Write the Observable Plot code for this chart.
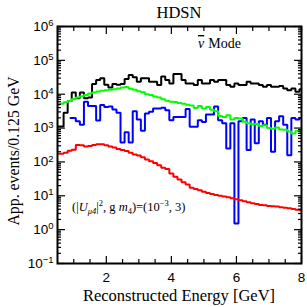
<!DOCTYPE html>
<html><head><meta charset="utf-8">
<script src="https://cdn.jsdelivr.net/npm/d3@7"></script>
<script src="https://cdn.jsdelivr.net/npm/@observablehq/plot@0.6"></script>
<style>html,body{margin:0;padding:0;background:#fff}#chart{width:307px;height:307px}</style>
</head><body><div id="chart"></div>
<script>
// Bin centres (GeV), 0.125 GeV bins
const energy = [0.5,0.625,0.75,0.875,1,1.125,1.25,1.375,1.5,1.625,1.75,1.875,2,2.125,2.25,2.375,2.5,2.625,2.75,2.875,3,3.125,3.25,3.375,3.5,3.625,3.75,3.875,4,4.125,4.25,4.375,4.5,4.625,4.75,4.875,5,5.125,5.25,5.375,5.5,5.625,5.75,5.875,6,6.125,6.25,6.375,6.5,6.625,6.75,6.875,7,7.125,7.25,7.375,7.5,7.625,7.75,7.875,8];
const blackSeries = [1122,1122,2818,6310,11220,7586,11220,7586,7943,19950,26300,29510,19050,15850,19950,19050,19950,28180,37150,31620,23440,29510,29510,23440,23440,18620,33110,26300,20890,39810,39810,26300,20890,20890,18620,26300,20890,20890,26300,23440,26300,26300,18620,16600,20890,18620,18620,23440,20890,20890,18620,16600,18620,16600,16600,17380,14790,13180,14790,11750,14130];
const greenSeries = [4786,5248,5754,6310,7244,7943,8710,9550,10470,11220,12020,12590,13180,13490,14130,14790,15850,16220,14450,13490,12300,11480,10000,9550,8511,7943,7079,6457,6026,5888,5495,5248,4898,4677,3890,4467,3802,4169,3467,3162,2291,2138,2399,1778,1995,1905,1549,1380,1288,1318,1148,1202,1000,955,1047,912,891,794,692,832,794];
const blueSeries = [null,null,null,1995,1995,1585,1259,6026,4467,4467,1660,4786,4169,4365,3548,2818,372,759,372,3162,1778,832,2692,3020,3802,3802,3981,3388,1698,2138,2138,2138,3631,1096,1096,1698,1514,2512,2512,4365,1698,1380,251,1380,1.51,1585,1995,224,1778,355,1585,1259,1995,200,1585,2239,1259,158,1995,1778,1995];
const redSeries = [174,174,186,214,229,316,309,288,295,316,331,331,309,288,269,240,224,209,186,166,155,138,117.5,105,93.3,79.4,67.6,61.7,45.7,36.3,30.2,25.1,21.4,17.4,15.8,14.5,13.2,12.0,11.2,10.5,10.0,9.55,9.12,8.51,7.94,7.41,6.92,6.46,6.03,5.75,5.37,5.25,5.01,4.90,4.79,4.57,4.47,4.27,4.07,3.89,3.72];

const xLabelTicks = [2,4,6,8];
const xMinorTicks = [1,1.5,2.5,3,3.5,4.5,5,5.5,6.5,7,7.5];
const yDecades = [0.1,1,10,100,1000,10000,100000,1000000];
const yMinorTicks = [];
for (const d of yDecades.slice(0,-1)) for (const m of [2,3,4,5,6,7,8,9]) yMinorTicks.push(+(d*m).toPrecision(3));

const titleText = "HDSN";
const modeNu = "ν";
const modeWord = "Mode";
const xTitle = "Reconstructed Energy [GeV]";
const yTitle = "App. events/0.125 GeV";

const rows = (vals) => energy.map((e, i) => ({e, v: vals[i]})).filter(d => d.v != null);

const W = 307, H = 307, mL = 57, mR = 6, mT = 26, mB = 44;
const empty = () => "";
const lineOpts = (c) => ({x: "e", y: "v", curve: "step", stroke: c, strokeWidth: 2, clip: true, strokeLinejoin: "miter", strokeLinecap: "butt"});

const plot = Plot.plot({
  width: W, height: H,
  marginLeft: mL, marginRight: mR, marginTop: mT, marginBottom: mB,
  style: {background: "white", fontFamily: "Liberation Sans", color: "black"},
  x: {domain: [0.5, 8], label: null},
  y: {type: "log", domain: [0.1, 1e6], label: null},
  marks: [
    Plot.line(rows(blackSeries), lineOpts("black")),
    Plot.line(rows(blueSeries), lineOpts("#0000ff")),
    Plot.line(rows(greenSeries), lineOpts("#00ff00")),
    Plot.line(rows(redSeries), lineOpts("#ff0000")),
    Plot.axisX(xLabelTicks, {anchor: "bottom", tickSize: -7, tickFormat: empty, strokeWidth: 1.2}),
    Plot.axisX(xMinorTicks, {anchor: "bottom", tickSize: -4, tickFormat: empty, strokeWidth: 1.2}),
    Plot.axisX(xLabelTicks, {anchor: "top", tickSize: -7, tickFormat: empty, strokeWidth: 1.2}),
    Plot.axisX(xMinorTicks, {anchor: "top", tickSize: -4, tickFormat: empty, strokeWidth: 1.2}),
    Plot.axisY(yDecades, {anchor: "left", tickSize: -8, tickFormat: empty, strokeWidth: 1.2}),
    Plot.axisY(yMinorTicks, {anchor: "left", tickSize: -4, tickFormat: empty, strokeWidth: 1.2}),
    Plot.axisY(yDecades, {anchor: "right", tickSize: -8, tickFormat: empty, strokeWidth: 1.2}),
    Plot.axisY(yMinorTicks, {anchor: "right", tickSize: -4, tickFormat: empty, strokeWidth: 1.2}),
    Plot.axisX(xLabelTicks, {anchor: "bottom", tickSize: 0, tickPadding: 9, fontSize: 13.5, tickFormat: d => String(d)}),
    Plot.axisY(yDecades, {anchor: "left", tickSize: 0, tickPadding: 4, fontSize: 13.5,
      tickFormat: d => { const e = Math.round(Math.log10(d)); return e < 0 ? "\u2212" + (-e) : String(e); }}),
    Plot.frame({stroke: "black", strokeWidth: 2})
  ]
});
document.getElementById("chart").appendChild(plot);

const svg = d3.select(plot);
// superscript decade labels
svg.selectAll('g[aria-label="y-axis tick label"] text').each(function() {
  const t = this.textContent;
  if (!t) return;
  const el = d3.select(this);
  el.text(null);
  el.append("tspan").text("10");
  el.append("tspan").attr("dy", "-0.5em").attr("font-size", "9.5px").text(t);
});

const cx = (mL + W - mR) / 2;
const serif = "Liberation Serif";
svg.append("text").attr("x", cx).attr("y", 18).attr("text-anchor", "middle")
  .attr("font-family", serif).attr("font-size", 16.5).text(titleText);
const mode = svg.append("text").attr("x", 198).attr("y", 48).attr("text-anchor", "start")
  .attr("font-family", serif).attr("font-size", 14);
mode.append("tspan").attr("font-style", "italic").style("text-decoration", "overline").text(modeNu);
mode.append("tspan").attr("dx", 4).text(modeWord);
svg.append("text").attr("x", cx).attr("y", 301).attr("text-anchor", "middle")
  .attr("font-family", serif).attr("font-size", 16.5).text(xTitle);
svg.append("text").attr("transform", `translate(19,151) rotate(-90)`)
  .attr("text-anchor", "middle").attr("font-family", serif).attr("font-size", 15.8).text(yTitle);

// annotation with sub/superscripts
const ann = svg.append("text").attr("x", 72).attr("y", 211).attr("text-anchor", "start")
  .attr("font-family", serif).attr("font-size", 12.5);
ann.append("tspan").text("(|");
ann.append("tspan").attr("font-style", "italic").text("U");
ann.append("tspan").attr("font-size", 8.5).attr("dy", 3).attr("font-style", "italic").text("μ4");
ann.append("tspan").attr("dy", -3).text("|");
ann.append("tspan").attr("font-size", 8.5).attr("dy", -5).text("2");
ann.append("tspan").attr("dy", 5).text(", g ");
ann.append("tspan").attr("font-style", "italic").text("m");
ann.append("tspan").attr("font-size", 8.5).attr("dy", 3).text("4");
ann.append("tspan").attr("dy", -3).text(")=(10");
ann.append("tspan").attr("font-size", 8.5).attr("dy", -5).text("\u22123");
ann.append("tspan").attr("dy", 5).text(", 3)");
</script>
</body></html>
